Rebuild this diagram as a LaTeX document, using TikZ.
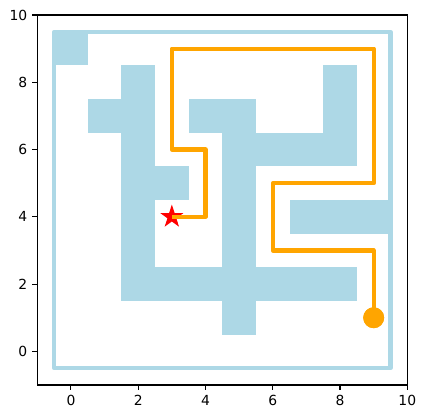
\documentclass[tikz,border=0pt]{standalone}
\usepackage{fontspec}
\setmainfont{DejaVu Sans}
\usetikzlibrary{shapes.geometric}
\definecolor{lb}{HTML}{ADD8E6}
\definecolor{orng}{HTML}{FFA500}
\begin{document}
\begin{tikzpicture}[x=24.2pt,y=24.2pt,
  wall/.style={fill=lb},
  border/.style={draw=lb,line width=3pt,line join=round},
  route/.style={draw=orng,line width=3pt,line join=round},
  tick/.style={line width=0.8pt},
  ticklbl/.style={inner sep=0pt,font=\fontsize{10pt}{12pt}\selectfont}]
\useasboundingbox (-2.109,-1.994) rectangle (10.526,10.446);
% walls
\fill[wall] (-0.5,8.5) rectangle (0.5,9.5);
\fill[wall] (0.5,6.5) rectangle (1.5,7.5);
\fill[wall] (1.5,1.5) rectangle (2.5,8.5);
\fill[wall] (2.5,4.5) rectangle (3.5,5.5);
\fill[wall] (1.5,1.5) rectangle (8.5,2.5);
\fill[wall] (4.5,0.5) rectangle (5.5,7.5);
\fill[wall] (3.5,6.5) rectangle (4.5,7.5);
\fill[wall] (5.5,5.5) rectangle (8.5,6.5);
\fill[wall] (7.5,6.5) rectangle (8.5,8.5);
\fill[wall] (6.5,3.5) rectangle (9.5,4.5);
\draw[border] (-0.5,-0.5) rectangle (9.5,9.5);
% goal and start markers
\node[star,star points=5,star point ratio=2.618,fill=red,draw=red,line width=0.8pt,inner sep=0pt,minimum size=15pt] (goal) at (3,4) {};
\node[circle,fill=orng,draw=orng,line width=1pt,inner sep=0pt,minimum size=14pt] (start) at (9,1) {};
% route
\draw[route] (start.center) -- (9,3) -- (6,3) -- (6,5) -- (9,5) -- (9,9) -- (3,9) -- (3,6) -- (4,6) -- (4,4) -- (goal.center);
\node[circle,fill=orng,draw=orng,line width=1pt,inner sep=0pt,minimum size=14pt] at (start) {};
% axes
\foreach \v in {0,2,4,6,8,10} {
  \draw[tick] (\v,-1) -- ++(0,-3.5pt);
  \node[ticklbl,anchor=north] at ([yshift=-7pt]\v,-1) {\v};
  \draw[tick] (-1,\v) -- ++(-3.5pt,0);
  \node[ticklbl,anchor=east] at ([xshift=-7pt]-1,\v) {\v};
}
\draw[line width=0.8pt] (-1,-1) rectangle (10,10);
\end{tikzpicture}
\end{document}
